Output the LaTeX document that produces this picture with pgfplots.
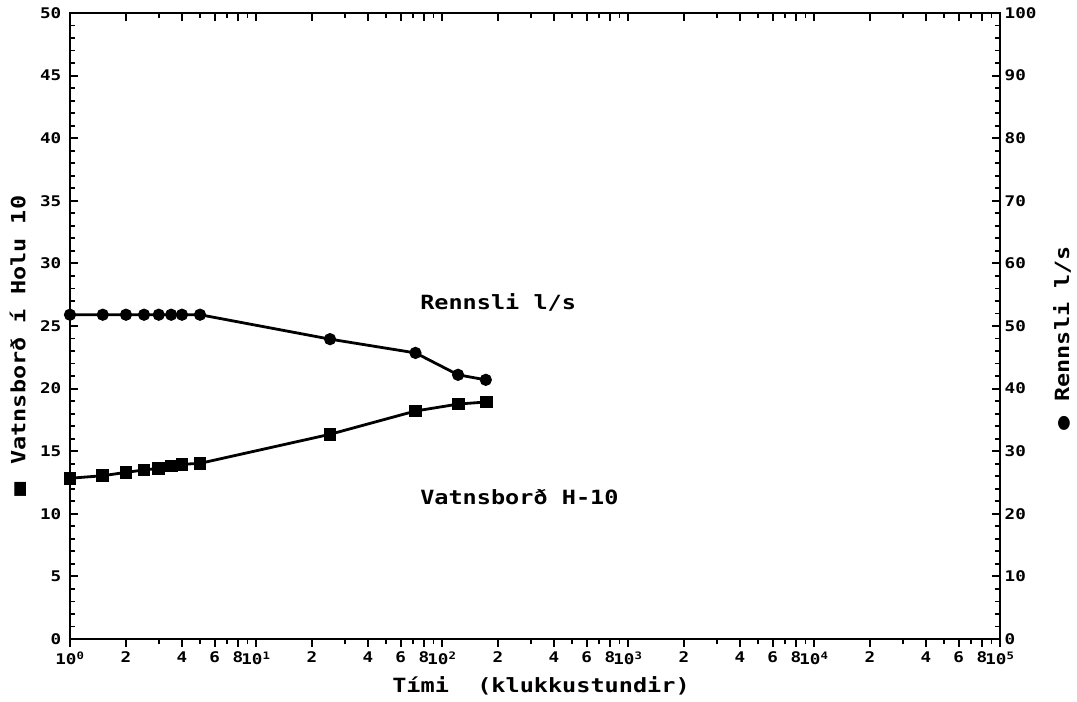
\documentclass[border=0pt]{standalone}
\usepackage{fontspec}
\setmainfont{DejaVu Sans Mono}[FakeStretch=1.2]
\usepackage{pgfplots}
\pgfplotsset{compat=1.18}
\pgfplotsset{myaxis/.style={
  scale only axis, width=697.5pt, height=469.5pt,
  xmin=1, xmax=100000,
  axis line style={line width=1.9pt},
  every tick/.style={black, line width=1.4pt},
  major tick length=6pt, minor tick length=4pt,
  ticklabel style={font=\fontsize{11}{11}\selectfont\bfseries},
  /pgf/number format/assume math mode=true,
  clip=false,
  xtick={1,2,4,6,8,10,20,40,60,80,100,200,400,600,800,1000,2000,4000,6000,8000,10000,20000,40000,60000,80000,100000},
  minor xtick={3,5,7,9,30,50,70,90,300,500,700,900,3000,5000,7000,9000,30000,50000,70000,90000},
}}
\begin{document}
\begin{tikzpicture}
\useasboundingbox (-52.5pt,-47.25pt) rectangle (755.25pt,479.25pt);
% bottom axis with outside ticks, squares
\begin{axis}[xmode=log, myaxis, ymin=0, ymax=50, tick align=outside, xtick pos=bottom, ytick=\empty,
  xticklabels={10\textsuperscript{0},2,4,6,8,10\textsuperscript{1},2,4,6,8,10\textsuperscript{2},2,4,6,8,10\textsuperscript{3},2,4,6,8,10\textsuperscript{4},2,4,6,8,10\textsuperscript{5}}]
\addplot[black, line width=2.1pt, mark=square*, mark size=3.7pt] coordinates {
(1,12.84) (1.5,13.04) (2,13.31) (2.5,13.5) (3,13.63) (3.5,13.82) (4,13.95) (5,14.03)
(25,16.35) (72,18.21) (123,18.77) (173,18.93)};
\end{axis}
% top ticks inside, left y axis
\begin{axis}[xmode=log, myaxis, ymin=0, ymax=50, tick align=inside, xtick pos=top, xticklabels={},
  ytick pos=left, ytick={0,5,...,50}, minor ytick={0,1,...,50},
  yticklabel style={xshift=-3pt}]
\end{axis}
% right y axis, circles
\begin{axis}[xmode=log, myaxis, ymin=0, ymax=100, tick align=inside, axis y line*=right, axis x line=none,
  ytick={0,10,...,100}, minor ytick={0,2,...,100}]
\addplot[black, line width=2.1pt, mark=*, mark size=3.5pt] coordinates {
(1,51.8) (1.5,51.8) (2,51.8) (2.5,51.8) (3,51.8) (3.5,51.8) (4,51.8) (5,51.8)
(25,47.9) (72,45.7) (122,42.2) (172,41.4)};
\end{axis}
\begin{scope}[every node/.style={font=\fontsize{14.7}{15}\selectfont\bfseries, inner sep=0pt}]
\node[rotate=90] at (-39pt,219.75pt) {■\hspace{13pt}Vatnsborð í Holu 10};
\node[rotate=90] at (744pt,225.75pt) {●\ Rennsli l/s};
\node at (353.25pt,-35.25pt) {Tími\ \ (klukkustundir)};
\node[anchor=west] at (262.5pt,252.75pt) {Rennsli l/s};
\node[anchor=west] at (262.5pt,106.5pt) {Vatnsborð H-10};
\end{scope}
\end{tikzpicture}
\end{document}
